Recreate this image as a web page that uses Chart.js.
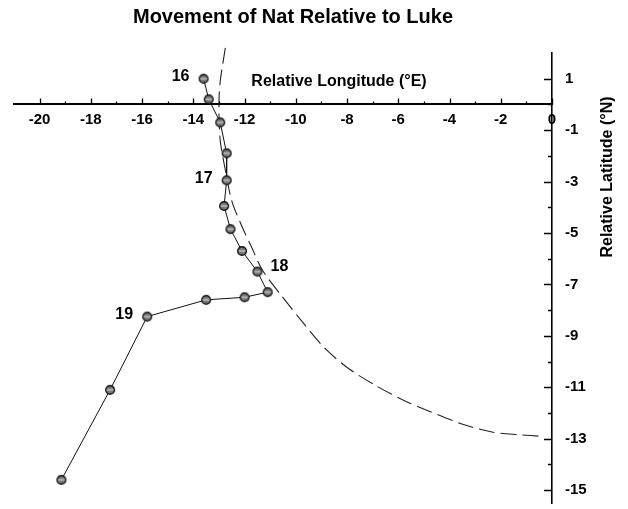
<!DOCTYPE html>
<html>
<head>
<meta charset="utf-8">
<script src="https://cdn.jsdelivr.net/npm/chart.js@4"></script>
<style>
  body { margin: 0; background: #fff; }
</style>
</head>
<body>
<canvas id="trackChart" width="628" height="509"></canvas>
<script>
// Nat's track, 6-hourly positions relative to Luke (deg)
const trackLon = [-13.6, -13.4, -12.95, -12.7, -12.7, -12.8, -12.55, -12.1, -11.5, -11.1, -12.0, -13.5, -15.8, -17.25, -19.15];
const trackLat = [1.0, 0.2, -0.7, -1.9, -2.95, -3.95, -4.85, -5.7, -6.5, -7.3, -7.5, -7.6, -8.25, -11.1, -14.6];

// day labels and the position they mark
const dayNames = ['16', '17', '18', '19'];
const dayPoint = [0, 4, 8, 12];

// dashed arc
const arcLon = [-12.75, -12.95, -13.0, -12.95, -12.75, -12.5, -12.1, -11.75, -11.3, -10.55, -9.75, -8.85, -7.9, -6.85, -5.8, -4.75, -3.45, -2.3, -1.2, -0.5];
const arcLat = [2.2, 0.9, 0, -1.4, -2.55, -3.75, -4.75, -5.5, -6.45, -7.45, -8.45, -9.5, -10.3, -10.95, -11.5, -11.95, -12.45, -12.75, -12.85, -12.9];

const chartTitle = 'Movement of Nat Relative to Luke';
const lonTitle = 'Relative Longitude (\u00B0E)';
const latTitle = 'Relative Latitude (\u00B0N)';

const FONT = "'Liberation Sans', Arial, Helvetica, sans-serif";

function makeMarker() {
    const c = document.createElement('canvas');
    c.width = 12;
    c.height = 12;
    const g = c.getContext('2d');
    g.beginPath();
    g.arc(6, 6, 4.3, 0, Math.PI * 2);
    g.fillStyle = '#7a7a7a';
    g.fill();
    g.lineWidth = 1.5;
    g.strokeStyle = '#111';
    g.stroke();
    g.beginPath();
    g.moveTo(2.5, 6);
    g.lineTo(9.5, 6);
    g.lineWidth = 1;
    g.strokeStyle = '#ddd';
    g.stroke();
    return c;
}

const overlay = {
    id: 'overlay',
    afterDraw(chart) {
        const { ctx } = chart;
        const x = chart.scales.x;
        const y = chart.scales.y;
        const x0 = x.getPixelForValue(0);
        const y0 = y.getPixelForValue(0);
        ctx.save();
        ctx.strokeStyle = '#000';
        ctx.lineWidth = 1.3;
        ctx.beginPath();
        for (let v = -20; v <= 0; v++) {
            const px = Math.round(x.getPixelForValue(v)) + 0.5;
            const len = v % 2 === 0 ? 6 : 3;
            ctx.moveTo(px, y0);
            ctx.lineTo(px, y0 - len);
        }
        for (let v = -15; v <= 1; v++) {
            const py = Math.round(y.getPixelForValue(v)) + 0.5;
            const len = Math.abs(v % 2) === 1 ? 8 : 4;
            ctx.moveTo(x0, py);
            ctx.lineTo(x0 - len, py);
        }
        ctx.stroke();

        ctx.fillStyle = '#000';
        ctx.textAlign = 'center';
        ctx.textBaseline = 'middle';
        ctx.font = 'bold 20px ' + FONT;
        ctx.fillText(chartTitle, 293, 17);

        ctx.font = 'bold 16px ' + FONT;
        ctx.fillText(lonTitle, 339, 82);

        ctx.save();
        ctx.translate(608, 177);
        ctx.rotate(-Math.PI / 2);
        ctx.fillText(latTitle, 0, 0);
        ctx.restore();

        dayNames.forEach((name, i) => {
            const k = dayPoint[i];
            const px = x.getPixelForValue(trackLon[k]);
            const py = y.getPixelForValue(trackLat[k]);
            const right = name === '18';
            ctx.fillText(name, px + (right ? 22 : -23), py + (right ? -5 : -2));
        });
        ctx.restore();
    }
};

const marker = makeMarker();

new Chart(document.getElementById('trackChart'), {
    type: 'scatter',
    data: {
        datasets: [
            {
                label: 'Nat',
                data: trackLon.map((v, i) => ({ x: v, y: trackLat[i] })),
                showLine: true,
                borderColor: '#111',
                borderWidth: 1,
                pointStyle: marker,
                pointRadius: 5,
                order: 0
            },
            {
                label: 'arc',
                data: arcLon.map((v, i) => ({ x: v, y: arcLat[i] })),
                showLine: true,
                borderColor: '#222',
                borderWidth: 1.1,
                borderDash: [16, 6],
                pointRadius: 0,
                tension: 0.3,
                clip: false,
                order: 1
            }
        ]
    },
    options: {
        responsive: false,
        animation: false,
        layout: { padding: { left: 14, top: 53, bottom: 6, right: 0 } },
        plugins: {
            legend: { display: false },
            title: { display: false },
            tooltip: { enabled: false }
        },
        scales: {
            x: {
                type: 'linear',
                position: { y: 0 },
                min: -21,
                max: 0,
                afterFit: (scale) => { scale.height = 0; },
                grid: { display: false, drawTicks: false },
                border: { display: true, color: '#000', width: 2 },
                ticks: {
                    stepSize: 2,
                    includeBounds: false,
                    maxTicksLimit: 30,
                    autoSkip: false,
                    maxRotation: 0,
                    padding: 6,
                    color: '#000',
                    font: { family: FONT, size: 15, weight: 'bold' },
                    callback: (v) => (Number.isInteger(v) && v % 2 === 0 ? String(v) : '')
                }
            },
            y: {
                type: 'linear',
                position: 'right',
                min: -15.5,
                max: 2,
                afterFit: (scale) => {
                    scale.width = 76;
                    scale.paddingTop = 0;
                    scale.paddingBottom = 0;
                },
                grid: { display: false, drawTicks: false },
                border: { display: true, color: '#000', width: 1.6 },
                ticks: {
                    stepSize: 1,
                    includeBounds: false,
                    maxTicksLimit: 40,
                    autoSkip: false,
                    padding: 13,
                    color: '#000',
                    font: { family: FONT, size: 15, weight: 'bold' },
                    callback: (v) => (Math.abs(v % 2) === 1 ? String(v) : '')
                }
            }
        }
    },
    plugins: [overlay]
});
</script>
</body>
</html>
